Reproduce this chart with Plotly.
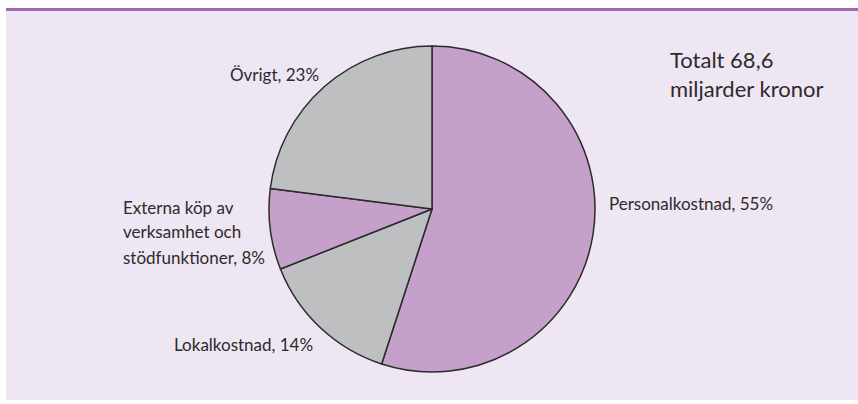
import plotly.graph_objects as go

W, H = 858, 404

categories = ["Personalkostnad", "Lokalkostnad", "Externa köp av verksamhet och stödfunktioner", "Övrigt"]
values = [55, 14, 8, 23]
label_lines = [
    ["Personalkostnad, 55%"],
    ["Lokalkostnad, 14%"],
    ["Externa köp av", "verksamhet och", "stödfunktioner, 8%"],
    ["Övrigt, 23%"],
]
total_lines = ["Totalt 68,6", "miljarder kronor"]

PURPLE = "#C5A0CB"
GRAY = "#BEBFC1"
BG = "#EEE6F3"
LINE = "#A466AF"
TXT = "#2E2A2B"
FONT = "Lato"

def px(x):
    return x / W

def py(y):
    return 1 - y / H

cx, cy, r = 432, 209, 163

fig = go.Figure(go.Pie(
    labels=categories,
    values=values,
    sort=False,
    direction="clockwise",
    rotation=0,
    marker=dict(colors=[PURPLE, GRAY, PURPLE, GRAY], line=dict(color="#2B2B2B", width=1.5)),
    textinfo="none",
    hoverinfo="label+percent",
    showlegend=False,
    domain=dict(x=[px(cx - r), px(cx + r)], y=[py(cy + r), py(cy - r)]),
))

label_pos = [
    (607, 203),
    (172, 344),
    (121, 207),
    (228, 75),
]
annotations = []
for (x, y), lines in zip(label_pos, label_lines):
    for i, t in enumerate(lines):
        annotations.append(dict(
            x=px(x), y=py(y + 25 * i), xref="paper", yref="paper", text=t, showarrow=False,
            xanchor="left", yanchor="middle", align="left",
            font=dict(family=FONT, size=17, color=TXT),
        ))
for i, t in enumerate(total_lines):
    annotations.append(dict(
        x=px(668), y=py(59 + 30 * i), xref="paper", yref="paper", text=t, showarrow=False,
        xanchor="left", yanchor="middle", align="left",
        font=dict(family=FONT, size=22, color=TXT),
    ))

fig.update_layout(
    width=W, height=H,
    margin=dict(l=0, r=0, t=0, b=0),
    paper_bgcolor="white",
    plot_bgcolor="white",
    annotations=annotations,
    shapes=[
        dict(type="rect", xref="paper", yref="paper", x0=px(6), x1=1, y0=py(400), y1=py(10),
             fillcolor=BG, line=dict(width=0), layer="below"),
        dict(type="line", xref="paper", yref="paper", x0=px(6), x1=1, y0=py(9.5), y1=py(9.5),
             line=dict(color=LINE, width=3)),
    ],
)

fig.write_html("out.html", config={"displayModeBar": False},
               post_script="document.body.style.margin='0';document.body.style.overflow='hidden';")
